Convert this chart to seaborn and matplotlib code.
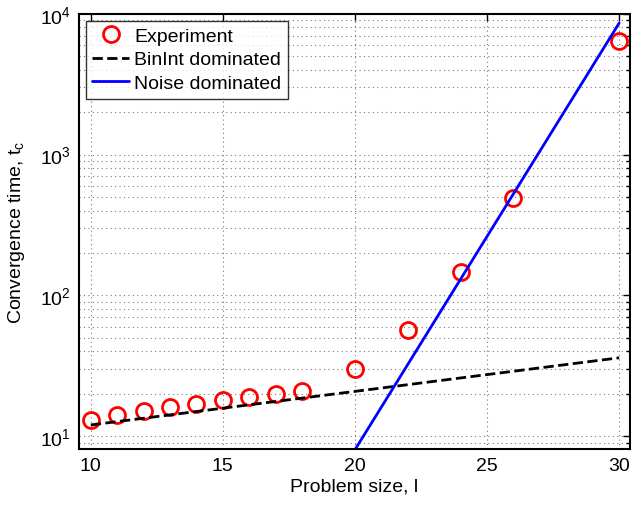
import numpy as np
import pandas as pd
import matplotlib
matplotlib.use("Agg")
import matplotlib.pyplot as plt
from matplotlib.ticker import LogLocator, NullFormatter
import seaborn as sns

# experiment points
size_exp = [10, 11, 12, 13, 14, 15, 16, 17, 18, 20, 22, 24, 26, 30]
time_exp = [13.0, 14.1, 15.0, 16.0, 16.9, 18.0, 18.9, 20.0, 20.9, 30.0, 57.0, 146.0, 490.0, 6400.0]

# model lines (end points)
size_binint = [10, 30]
time_binint = [12.0, 36.0]
size_noise = [20, 30]
time_noise = [8.0, 8600.0]

sns.set_style("white")
plt.rcParams['font.family'] = ['Liberation Sans', 'DejaVu Sans']
plt.rcParams['mathtext.fontset'] = 'custom'
plt.rcParams['mathtext.rm'] = 'Liberation Sans'
plt.rcParams['mathtext.it'] = 'Liberation Sans'
plt.rcParams['text.color'] = 'black'
plt.rcParams['axes.labelcolor'] = 'black'
plt.rcParams['xtick.color'] = 'black'
plt.rcParams['ytick.color'] = 'black'

fig = plt.figure(figsize=(6.31, 5.06), dpi=100)
ax = fig.add_axes([0.125, 0.1107, 0.873, 0.86])

sns.lineplot(x=size_exp, y=time_exp, ax=ax, linestyle='none', marker='o',
             markersize=11.5, markerfacecolor='none', markeredgecolor='red',
             markeredgewidth=2, label='Experiment')
sns.lineplot(x=size_binint, y=time_binint, ax=ax, color='black', linestyle='--',
             linewidth=2, label='BinInt dominated')
sns.lineplot(x=size_noise, y=time_noise, ax=ax, color='blue', linewidth=2,
             label='Noise dominated')

ax.set_yscale('log')
ax.set_xlim(9.55, 30.4)
ax.set_ylim(8.1, 1e4)
ax.set_xticks([10, 15, 20, 25, 30])
ax.yaxis.set_major_locator(LogLocator(base=10))
ax.yaxis.set_minor_locator(LogLocator(base=10, subs=np.arange(2, 10)))
ax.yaxis.set_minor_formatter(NullFormatter())

grid_style = dict(linestyle=(0, (1, 3)), color='#777777', linewidth=0.8)
ax.grid(True, which='major', axis='both', **grid_style)
ax.grid(True, which='minor', axis='y', **grid_style)

ax.tick_params(which='both', direction='in', top=True, right=True, labelsize=14,
               length=5, width=1, pad=6)
ax.tick_params(which='minor', length=3)
for s in ax.spines.values():
    s.set_color('black')
    s.set_linewidth(1.5)

ax.set_xlabel('Problem size, l', fontsize=14, labelpad=2)
ax.set_ylabel('Convergence time, t$_\\mathregular{c}$', fontsize=14, labelpad=9)

leg = ax.legend(loc='upper left', fontsize=14, frameon=True, fancybox=False,
                edgecolor='black', borderaxespad=0.35, handlelength=1.9,
                borderpad=0.35, labelspacing=0.3, handletextpad=0.25)
leg.get_frame().set_linewidth(1)

fig.savefig('out.png', dpi=100)
